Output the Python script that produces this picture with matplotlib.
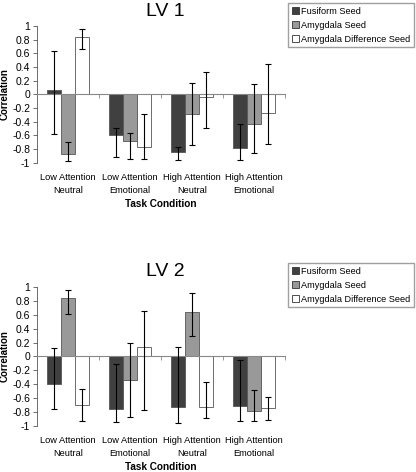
import numpy as np
import matplotlib
matplotlib.use("Agg")
import matplotlib.pyplot as plt
from matplotlib.patches import Patch

plt.rcParams['font.family'] = ['Liberation Sans', 'DejaVu Sans']

conditions = [("Low Attention", "Neutral"), ("Low Attention", "Emotional"),
              ("High Attention", "Neutral"), ("High Attention", "Emotional")]
seeds = ["Fusiform Seed", "Amygdala Seed", "Amygdala Difference Seed"]
colors = ["#404040", "#999999", "#ffffff"]

# LV 1: bar values and confidence interval ends
lv1_vals = [[0.07, -0.60, -0.84, -0.79],
            [-0.87, -0.68, -0.29, -0.43],
            [0.84, -0.77, -0.04, -0.27]]
lv1_low = [[-0.58, -0.91, -0.96, -0.96],
           [-0.98, -0.94, -0.74, -0.86],
           [0.67, -0.94, -0.49, -0.73]]
lv1_high = [[0.63, -0.49, -0.77, -0.43],
            [-0.70, -0.57, 0.17, 0.15],
            [0.95, -0.29, 0.33, 0.44]]

# LV 2
lv2_vals = [[-0.40, -0.75, -0.73, -0.71],
            [0.84, -0.34, 0.64, -0.79],
            [-0.70, 0.13, -0.72, -0.74]]
lv2_low = [[-0.76, -0.94, -0.95, -0.93],
           [0.61, -0.87, 0.29, -0.93],
           [-0.93, -0.77, -0.88, -0.92]]
lv2_high = [[0.12, -0.11, 0.13, -0.05],
            [0.95, 0.19, 0.92, -0.48],
            [-0.47, 0.65, -0.37, -0.59]]

fig = plt.figure(figsize=(4.16, 4.72), dpi=100)


def draw_panel(rect, title, title_y, vals, low, high, legend_anchor):
    ax = fig.add_axes(rect)
    x = np.arange(len(conditions)) + 0.5
    w = 0.23
    for i, seed in enumerate(seeds):
        v = np.array(vals[i])
        lo = v - np.array(low[i])
        hi = np.array(high[i]) - v
        ax.bar(x + (i - 1) * w, v, w, color=colors[i], edgecolor="#555555",
               linewidth=0.6, zorder=2)
        ax.errorbar(x + (i - 1) * w, v, yerr=[lo, hi], fmt='none',
                    ecolor='black', elinewidth=0.8, capsize=2, capthick=0.8,
                    zorder=3)
    ax.set_xlim(0, 4)
    ax.set_ylim(-1, 1)
    ax.set_yticks(np.arange(-1, 1.01, 0.2))
    ax.set_yticklabels(["-1", "-0.8", "-0.6", "-0.4", "-0.2", "0",
                        "0.2", "0.4", "0.6", "0.8", "1"])
    ax.tick_params(axis='y', labelsize=7.5, length=3, width=0.6,
                   colors='#555555', labelcolor='black', pad=2)
    for s in ['top', 'right']:
        ax.spines[s].set_visible(False)
    ax.spines['left'].set_color('#555555')
    ax.spines['left'].set_linewidth(0.6)
    ax.spines['bottom'].set_position(('data', 0))
    ax.spines['bottom'].set_color('#888888')
    ax.spines['bottom'].set_linewidth(0.8)
    ax.set_xticks([1, 2, 3, 4])
    ax.set_xticklabels([])
    ax.tick_params(axis='x', length=3, width=0.6, colors='#888888')
    for xi, (l1, l2) in zip(x, conditions):
        ax.annotate(l1, xy=(xi, -1), xytext=(0, -15), textcoords='offset pixels',
                    ha='center', va='center', fontsize=6.7)
        ax.annotate(l2, xy=(xi, -1), xytext=(0, -28), textcoords='offset pixels',
                    ha='center', va='center', fontsize=6.7)
    ax.annotate("Task Condition", xy=(2, -1), xytext=(0, -41),
                textcoords='offset pixels', ha='center', va='center',
                fontsize=7.2, fontweight='bold')
    pos = ax.get_position()
    fig.text(4.5 / 416, pos.y0 + pos.height / 2, "Correlation", rotation=90,
             ha='center', va='center', fontsize=7, fontweight='bold')
    fig.text(165 / 416, 1 - title_y / 472, title, ha='center', va='center',
             fontsize=14)
    handles = [Patch(facecolor=c, edgecolor='#333333', linewidth=0.6)
               for c in colors]
    fig.legend(handles, seeds, loc='upper left',
               bbox_to_anchor=legend_anchor, fontsize=6.6, frameon=True,
               fancybox=False, edgecolor='#888888', handlelength=0.75,
               handleheight=0.75, handletextpad=0.25, labelspacing=0.55,
               borderpad=0.4, borderaxespad=0)
    return ax


draw_panel([0.089, 0.655, 0.596, 0.29], "LV 1", 11, lv1_vals, lv1_low,
           lv1_high, (288 / 416, 1 - 3 / 472))
draw_panel([0.089, 0.0975, 0.596, 0.2945], "LV 2", 272, lv2_vals, lv2_low,
           lv2_high, (288 / 416, 1 - 263 / 472))

fig.savefig("out.png", dpi=100)
